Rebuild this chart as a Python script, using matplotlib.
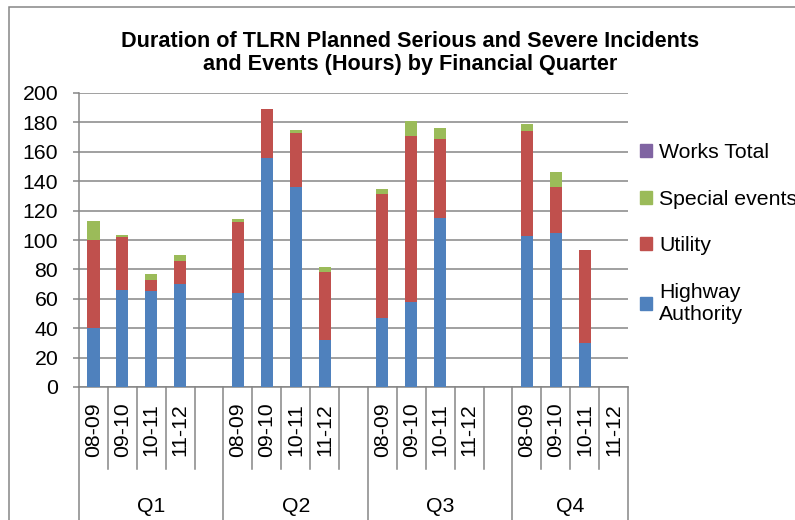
import matplotlib.pyplot as plt
from matplotlib.patches import Patch, Rectangle

plt.rcParams["font.family"] = ["Liberation Sans", "DejaVu Sans"]

QUARTERS = ["Q1", "Q2", "Q3", "Q4"]
YEARS = ["08-09", "09-10", "10-11", "11-12"]

# hours per quarter, one value per financial year
HIGHWAY = [[40, 66, 65, 70], [64, 156, 136, 32], [47, 58, 115, 0], [103, 105, 30, 0]]
UTILITY = [[60, 36, 7.5, 16], [48, 33, 37, 46], [84, 113, 54, 0], [71, 31, 63, 0]]
SPECIAL = [[13, 1.5, 4.5, 3.5], [2.5, 0, 2, 3.5], [3.5, 10, 7, 0], [5, 10, 0, 0]]
WORKS = [[0, 0, 0, 0], [0, 0, 0, 0], [0, 0, 0, 0], [0, 0, 0, 0]]

SERIES = [
    ("Highway\nAuthority", HIGHWAY, "#4F81BD"),
    ("Utility", UTILITY, "#C0504D"),
    ("Special events", SPECIAL, "#9BBB59"),
    ("Works Total", WORKS, "#8064A2"),
]

GRID = "#868686"
FS = 15.3


def main() -> None:
    fig = plt.figure(figsize=(7.95, 5.2), dpi=100)
    ax = fig.add_axes([79 / 795, 133 / 520, 549 / 795, 294 / 520])

    # x slots: 5 per quarter (4 years + gap), last quarter has no gap
    xs = []
    for qi in range(len(QUARTERS)):
        for yi in range(len(YEARS)):
            xs.append(qi * 5 + yi)
    n_slots = 5 * len(QUARTERS) - 1

    bottom = [0] * len(xs)
    for name, values, color in SERIES:
        flat = [v for q in values for v in q]
        ax.bar(xs, flat, width=0.42, bottom=bottom, color=color, zorder=3)
        bottom = [b + v for b, v in zip(bottom, flat)]

    ax.set_xlim(-0.5, n_slots - 0.5)
    ax.set_ylim(0, 200)
    ax.set_yticks(range(0, 201, 20))
    ax.yaxis.grid(True, color=GRID, linewidth=1.1, zorder=0)
    ax.set_axisbelow(True)
    ax.set_xticks([])
    ax.tick_params(axis="y", direction="out", length=4.5, color=GRID,
                   width=1.1, labelsize=FS, pad=10.5)
    for side in ("top", "right"):
        ax.spines[side].set_visible(False)
    for side in ("left", "bottom"):
        ax.spines[side].set_color(GRID)
        ax.spines[side].set_linewidth(1.1)

    # category labels below the axis
    tr = ax.get_xaxis_transform()
    for qi, q in enumerate(QUARTERS):
        for yi, y in enumerate(YEARS):
            ax.text(qi * 5 + yi, -0.145, y, transform=tr, rotation=90,
                    ha="center", va="center", fontsize=FS)
        span = 4 if qi == len(QUARTERS) - 1 else 5
        ax.text(qi * 5 + (span - 1) / 2, -0.405, q, transform=tr,
                ha="center", va="center", fontsize=FS)

    for b in range(n_slots + 1):
        x = b - 0.5
        major = b % 5 == 0 or b == n_slots
        ax.plot([x, x], [0, -0.5 if major else -0.279], transform=tr,
                color=GRID, linewidth=1.1, clip_on=False)

    fig.suptitle("Duration of TLRN Planned Serious and Severe Incidents\n"
                 "and Events (Hours) by Financial Quarter",
                 x=410 / 795, y=1 - 31 / 520, va="top",
                 fontsize=15.6, fontweight="bold", linespacing=1.1)

    handles = [Patch(color=c, label=n) for n, _, c in SERIES[::-1]]
    fig.legend(handles=handles, loc="upper left",
               bbox_to_anchor=(640 / 795, 1 - 143 / 520), frameon=False,
               fontsize=FS, handlelength=0.55, handleheight=0.55,
               handletextpad=0.35, labelspacing=1.3, borderaxespad=0,
               borderpad=0)

    fig.patches.append(Rectangle((9 / 795, -0.1), 1.2, 1 - 7 / 520 + 0.1,
                                 transform=fig.transFigure, fill=False,
                                 edgecolor=GRID, linewidth=1.1))

    fig.savefig("out.png", dpi=100)


if __name__ == "__main__":
    main()
